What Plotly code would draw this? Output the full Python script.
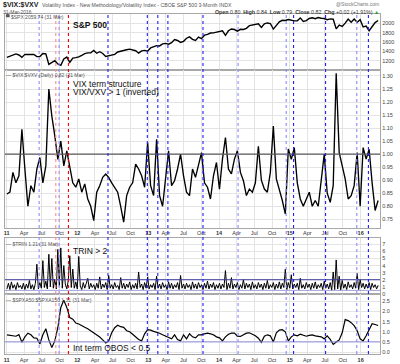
import pandas as pd
import plotly.graph_objects as go

# ---------------- data ----------------
dates = pd.date_range("2011-01-03", "2016-03-31", periods=125)
trin_dates = pd.date_range("2011-01-03", "2016-03-31", periods=249)

spx = [1271,1295,1307,1343,1321,1270,1335,1337,1340,1333,
       1286,1287,1353,1345,1120,1162,1198,1129,1100,1238,
       1276,1161,1255,1265,1280,1314,1350,1366,1370,1417,
       1358,1391,1353,1290,1308,1320,1335,1385,1405,1410,
       1433,1447,1429,1412,1360,1410,1419,1402,1472,1500,
       1520,1515,1560,1569,1552,1583,1650,1631,1590,1614,
       1680,1709,1655,1633,1705,1670,1745,1762,1791,1795,
       1810,1831,1838,1742,1840,1877,1866,1830,1871,1867,
       1892,1949,1962,1977,1987,1910,1988,2007,1994,1875,
       1950,2031,2063,2060,2081,2062,2051,2055,2115,2040,
       2056,2102,2117,2099,2123,2108,2101,2077,2093,2086,
       1880,1961,1931,2003,2090,2023,2090,2021,2078,1921,
       1940,1840,1932,2015,2060]

vix_vxv = [0.847,0.854,0.930,0.890,0.917,1.095,0.943,0.800,0.879,0.854,
           0.943,0.987,0.890,0.955,1.250,1.146,1.070,0.980,1.050,0.955,
           1.013,0.943,0.890,0.873,0.905,0.854,0.886,0.828,0.800,0.745,
           0.854,0.879,0.911,0.924,0.911,0.890,0.873,0.854,0.800,0.739,
           0.841,0.873,0.890,0.962,0.943,0.917,0.873,1.045,0.879,0.841,
           1.057,0.841,0.800,0.905,1.013,0.879,0.898,0.943,1.000,0.917,
           0.854,0.841,0.943,0.911,0.955,1.006,0.890,0.873,0.828,0.917,
           0.968,0.866,0.981,1.064,0.943,0.924,0.981,1.013,0.930,0.898,
           0.841,0.866,0.854,0.890,1.030,0.900,0.866,0.854,0.930,1.108,
           0.905,0.866,0.822,0.770,1.020,0.980,1.025,0.890,0.828,0.800,
           0.828,0.854,0.800,0.822,0.800,0.911,1.000,0.850,0.815,0.879,
           1.310,1.006,0.955,0.905,0.828,0.841,0.879,1.006,0.800,1.025,
           0.981,1.019,0.890,0.784,0.822]

trin = [0.7,1.5,0.6,1.7,0.8,1.3,0.6,1.6,0.9,1.2,
        0.7,1.5,0.6,1.4,0.8,1.9,0.7,1.3,0.6,1.5,
        4.2,0.7,1.6,0.8,4.7,0.9,1.8,0.7,5.6,1.0,
        5.0,0.8,2.1,0.7,6.3,1.2,6.5,0.8,4.0,1.4,
        0.7,1.9,5.4,0.9,3.5,0.8,1.7,0.7,5.3,1.1,
        0.6,1.6,0.8,1.4,2.2,0.7,1.5,0.9,1.3,0.6,
        1.5,0.8,2.4,0.7,1.4,0.9,1.6,0.6,2.6,0.8,
        1.3,0.7,1.6,0.9,1.2,0.6,2.3,0.8,1.5,0.7,
        1.4,0.9,1.7,0.6,1.3,0.8,1.5,0.7,3.1,0.9,
        1.4,0.6,1.6,0.8,2.4,0.7,1.3,0.9,1.5,0.6,
        2.5,0.8,1.4,0.7,1.6,0.9,1.3,0.6,1.7,0.8,
        1.5,0.7,1.3,0.9,1.6,0.6,2.6,0.8,1.4,0.7,
        1.5,0.9,1.3,0.6,1.7,0.8,1.4,0.7,1.6,0.9,
        1.3,0.6,1.5,0.8,1.8,0.7,1.4,0.9,1.6,0.6,
        1.3,0.8,1.5,0.7,1.4,0.9,3.3,0.6,1.5,0.8,
        2.3,0.7,1.4,0.9,1.6,0.6,1.3,0.8,2.0,0.7,
        1.5,0.9,1.4,0.6,1.7,0.8,1.3,0.7,1.6,0.9,
        1.4,0.6,1.5,0.8,1.9,0.7,1.3,0.9,1.6,0.6,
        1.4,0.8,1.7,0.7,1.5,0.9,3.5,0.6,1.6,0.8,
        2.7,0.7,1.4,0.9,1.5,0.6,2.2,0.8,1.3,0.7,
        1.6,0.9,1.4,0.6,1.5,0.8,1.7,0.7,1.3,0.9,
        1.5,0.6,1.8,0.8,1.4,0.7,1.6,0.5,3.1,0.6,
        4.8,0.7,2.5,0.5,1.9,0.8,1.4,0.6,1.7,0.9,
        1.3,0.7,1.6,0.8,2.9,0.6,2.0,0.9,1.5,0.7,
        1.4,0.8,1.6,0.6,1.5,0.9,1.3,0.7,1.21]

spxa_ratio = [0.85,0.82,0.80,0.78,0.86,0.48,0.75,0.93,0.85,0.70,
              0.68,0.40,0.85,1.15,0.60,0.22,0.55,1.20,2.20,2.55,
              2.20,1.70,1.62,1.43,1.38,1.28,1.22,1.15,1.05,0.98,
              0.85,0.74,0.60,0.45,0.55,0.95,1.20,1.32,1.25,1.22,
              1.05,1.00,0.88,0.75,0.62,0.55,0.90,1.10,1.08,1.02,
              0.98,0.93,0.85,0.78,0.72,0.65,0.85,0.62,0.55,0.85,
              0.65,0.90,0.75,0.70,0.85,0.85,0.90,0.93,0.90,0.85,
              0.75,0.70,0.55,0.75,0.88,0.93,0.93,0.78,0.77,0.85,
              0.93,0.95,0.88,0.80,0.68,0.48,0.78,0.85,0.80,0.50,
              0.95,1.08,1.10,1.00,0.55,0.75,0.85,0.80,0.88,0.82,
              0.78,0.82,0.85,0.80,0.78,0.75,0.65,0.80,0.62,0.38,
              0.50,0.60,0.95,1.60,1.55,1.45,1.30,1.05,0.65,0.55,
              0.80,1.10,1.40,1.36,1.31]

event_dates = ["2011-06-18", "2011-09-12", "2011-09-29", "2011-11-16",
               "2012-06-07", "2012-12-27", "2013-02-19", "2013-04-12",
               "2013-10-10", "2014-04-09", "2014-12-13", "2015-01-20",
               "2015-07-04", "2015-12-12", "2016-02-10"]
event_kind = ["blue_light", "red_light", "blue_light", "red",
              "blue", "blue", "blue", "blue",
              "blue", "blue_light", "blue_light", "blue",
              "blue", "blue_light", "blue"]

quarter_ticks = pd.date_range("2011-01-01", "2016-01-01", freq="QS")
month_names = {4: "Apr", 7: "Jul", 10: "Oct"}

spx_ticks = [1200, 1400, 1600, 1800, 2000]
vix_ticks = [0.75, 0.80, 0.85, 0.90, 0.95, 1.00, 1.05, 1.10, 1.15, 1.20, 1.25, 1.30]
trin_ticks = [0, 1, 2, 3, 4, 5, 6, 7]
spxa_ticks = [0.0, 0.5, 1.0, 1.5, 2.0, 2.5]

vix_ref = 1.0
trin_refs = [2.0, 0.5]
spxa_ref = 0.5

last_spx, last_vix, last_trin, last_spxa = 2059.74, 0.82, 1.21, 1.31
ohlc = {"Open": "0.80", "High": "0.84", "Low": "0.79", "Close": "0.82"}
chg_text = "+0.02 (+1.91%)"

# ---------------- layout helpers ----------------
W, H = 400, 364
FONT = "Liberation Sans, Arial, sans-serif"

def fy(py):
    return 1 - py / H

def fx(px):
    return px / W

tick_text = []
for d in quarter_ticks:
    if d.month == 1:
        tick_text.append("<b>%02d</b>" % (d.year % 100))
    else:
        tick_text.append(month_names[d.month])

x_range = ["2010-12-24", "2016-04-10"]
x_dom = [fx(4), fx(380)]

panels = [
    dict(py=(14, 70),   rng=[1008, 2200],      ticks=spx_ticks,  fmt="d"),
    dict(py=(70, 229),  rng=[0.7176, 1.3244],  ticks=vix_ticks,  fmt=".2f"),
    dict(py=(239, 296), rng=[-0.07, 7.95],     ticks=trin_ticks, fmt="d"),
    dict(py=(296, 356), rng=[-0.098, 2.843],   ticks=spxa_ticks, fmt=".1f"),
]

fig = go.Figure()
series = [("x", "y", dates, spx, 1.4), ("x2", "y2", dates, vix_vxv, 1.35),
          ("x3", "y3", trin_dates, trin, 1.0), ("x4", "y4", dates, spxa_ratio, 1.2)]
for xa, ya, xs, vals, lw in series:
    fig.add_trace(go.Scatter(x=xs, y=vals, xaxis=xa, yaxis=ya, mode="lines",
                             line=dict(color="black", width=lw), showlegend=False,
                             hoverinfo="skip"))

layout = dict(width=W, height=H, margin=dict(l=0, r=0, t=0, b=0),
              paper_bgcolor="white", plot_bgcolor="white", showlegend=False,
              font=dict(family=FONT, size=6, color="#333"))

for i, p in enumerate(panels):
    n = "" if i == 0 else str(i + 1)
    show_x = n in ("2", "4")
    xa = dict(
        domain=x_dom, range=x_range, anchor="y" + n, type="date",
        tickmode="array", tickvals=list(quarter_ticks), ticktext=tick_text,
        showticklabels=show_x, ticks="", tickfont=dict(size=5.5, color="#333"),
        showgrid=True, gridcolor="#e4e4e4", gridwidth=1,
        showline=True, mirror=True, linecolor="#a8a8a8", linewidth=1,
        zeroline=False)
    if n:
        xa["matches"] = "x"
    layout["xaxis" + n] = xa
    if p["fmt"] == "d":
        ttxt = [str(int(t)) for t in p["ticks"]]
    else:
        ttxt = [format(t, p["fmt"]) for t in p["ticks"]]
    layout["yaxis" + n] = dict(
        domain=[fy(p["py"][1]), fy(p["py"][0])], range=p["rng"], anchor="x" + n,
        side="right", tickmode="array", tickvals=p["ticks"], ticktext=ttxt,
        ticks="", tickfont=dict(size=5.5, color="#444"),
        showgrid=True, gridcolor="#e4e4e4", gridwidth=1,
        showline=True, mirror=True, linecolor="#a8a8a8", linewidth=1,
        zeroline=False)

fig.update_layout(**layout)

shapes = []
shapes.append(dict(type="line", xref="x2 domain", yref="y2", x0=0, x1=1,
                   y0=vix_ref, y1=vix_ref, line=dict(color="#5a5a5a", width=1.1)))
ref_cols = ["#3a3a9a", "#9c9cd4"]
for v, c in zip(trin_refs, ref_cols):
    shapes.append(dict(type="line", xref="x3 domain", yref="y3", x0=0, x1=1,
                       y0=v, y1=v, line=dict(color=c, width=1)))
shapes.append(dict(type="line", xref="x4 domain", yref="y4", x0=0, x1=1,
                   y0=spxa_ref, y1=spxa_ref, line=dict(color="#8e8ed8", width=1)))
kind_col = {"blue": "#1f1fff", "blue_light": "#8a8aff", "red": "#ee0000", "red_light": "#ff8a8a"}
for d, k in zip(event_dates, event_kind):
    shapes.append(dict(type="line", xref="x", yref="paper", x0=d, x1=d,
                       y0=fy(356), y1=fy(14),
                       line=dict(color=kind_col[k], width=1.1, dash="dot")))
fig.update_layout(shapes=shapes)

ann = []
def text(px, py, s, size, color="#333", anchor="left", bold=False):
    if bold:
        s = "<b>" + s + "</b>"
    ann.append(dict(x=fx(px), y=fy(py), xref="paper", yref="paper", text=s,
                    showarrow=False, xanchor=anchor, yanchor="middle",
                    font=dict(family=FONT, size=size, color=color)))

# header
text(0.5, 5, "$VIX:$VXV", 7, "#222", bold=True)
text(39, 5, "Volatility Index - New Methodology/Volatility Index - CBOE S&P 500 3-Month INDX", 5.2, "#555")
text(381, 4, "@StockCharts.com", 5, "#777", anchor="right")
text(0.5, 12, "31-Mar-2016", 5, "#555")
sp = "&nbsp;&nbsp;"
hdr = sp.join("<b>%s</b> %s" % (k, v) for k, v in ohlc.items())
hdr += sp + "<b>Chg</b> " + chg_text + " <span style='color:#2a9a2a'>▲</span>"
text(381, 12, hdr, 5.3, "#333", anchor="right")

# panel legends
text(3, 17.5, "▀ $SPX %.2f (31 Mar)" % last_spx, 5, "#555")
text(3, 75, "— $VIX:$VXV (Daily) %.2f (31 Mar)" % last_vix, 5, "#555")
text(3, 245, "— $TRIN %.2f (31 Mar)" % last_trin, 5, "#555")
text(3, 302, "— $SPXA50:$SPXA150 %.2f (31 Mar)" % last_spxa, 5, "#555")

# commentary
text(70, 25, "S&P 500", 8.5, "#111", bold=True)
text(70, 84, "VIX term structure", 8.5, "#111")
text(70, 93, "VIX/VXV > 1 (inverted)", 8.5, "#111")
text(70, 252.5, "TRIN > 2", 8.5, "#111")
text(70, 350, "Int term OBOS < 0.5", 8.5, "#111")

fig.update_layout(annotations=ann)
fig.write_html("out.html", config={"displayModeBar": False},
               post_script="document.body.style.margin='0';document.body.style.padding='0';"
                           "document.body.style.overflow='hidden';")
